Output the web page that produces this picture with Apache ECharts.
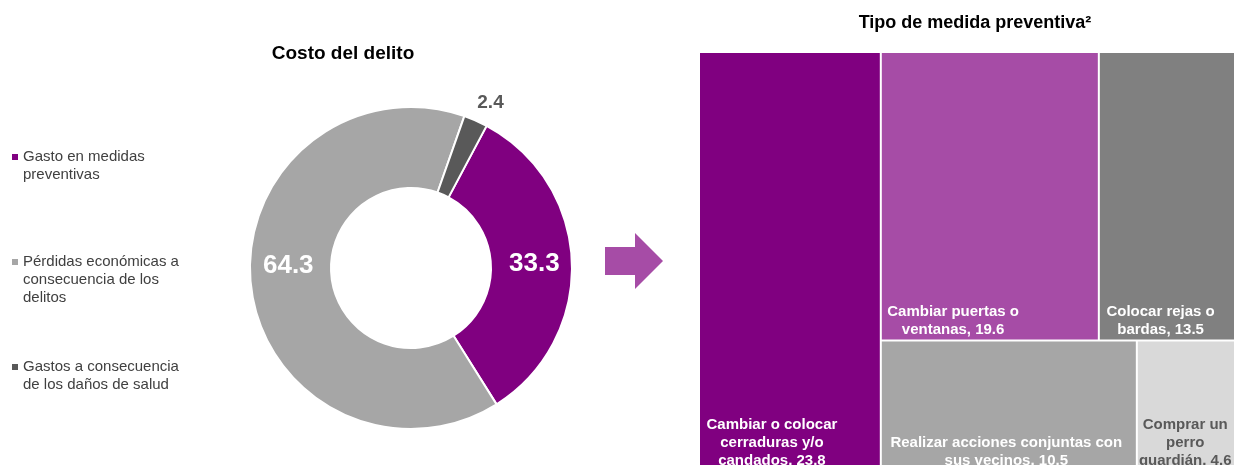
<!DOCTYPE html>
<html>
<head>
<meta charset="utf-8">
<script src="https://cdn.jsdelivr.net/npm/echarts@6/dist/echarts.min.js"></script>
<style>
  html, body { margin: 0; padding: 0; background: #fff; }
  #main { width: 1234px; height: 465px; }
</style>
</head>
<body>
<div id="main"></div>
<script>
// Costo del delito (%)
var costoNombres = [
  "Gasto en medidas\npreventivas",
  "Pérdidas económicas a\nconsecuencia de los\ndelitos",
  "Gastos a consecuencia\nde los daños de salud",
];
var costoValores = [33.3, 64.3, 2.4];
var costoColores = ["#800080", "#A6A6A6", "#595959"];

// Tipo de medida preventiva (%)
var medidaNombres = [
  "Cambiar o colocar\ncerraduras y/o\ncandados",
  "Cambiar puertas o\nventanas",
  "Colocar rejas o\nbardas",
  "Realizar acciones conjuntas con\nsus vecinos",
  "Comprar un\nperro\nguardián",
];
var medidaValores = [23.8, 19.6, 13.5, 10.5, 4.6];
var medidaColores = ["#800080", "#A64CA6", "#808080", "#A6A6A6", "#D9D9D9"];
var medidaTextoColor = ["#fff", "#fff", "#fff", "#fff", "#595959"];
// donde cae el centro del texto dentro de cada rectangulo
var medidaTextoX = ["40%", "33%", "41%", "49%", "43%"];

var chart = echarts.init(document.getElementById("main"));

// etiquetas especiales del anillo
var costoEtiqueta = [
  {},
  { offset: [0, -16] },
  { position: "outside", color: "#595959", fontSize: 19, distanceToLabelLine: -6 },
];
var costoLinea = [{}, {}, { show: false, length: 19, length2: 0 }];

var costoData = costoNombres.map(function (n, i) {
  return {
    name: n,
    value: costoValores[i],
    itemStyle: { color: costoColores[i] },
    label: costoEtiqueta[i],
    labelLine: costoLinea[i],
  };
});

function hoja(i) {
  return {
    name: medidaNombres[i],
    value: medidaValores[i],
    itemStyle: { color: medidaColores[i] },
    label: { color: medidaTextoColor[i], position: [medidaTextoX[i], "100%"] },
  };
}
// agrupado para que quede: columna izquierda, fila arriba, fila abajo
var medidaArbol = [
  hoja(0),
  {
    name: "resto",
    children: [
      { name: "fila1", children: [hoja(1), hoja(2)] },
      { name: "fila2", children: [hoja(3), hoja(4)] },
    ],
  },
];

var option = {
  animation: false,
  textStyle: { fontFamily: "Liberation Sans, Arial, sans-serif" },
  title: [
    {
      text: "Costo del delito",
      left: 343,
      top: 44,
      textAlign: "center",
      padding: 0,
      textStyle: { fontSize: 19, fontWeight: "bold", color: "#000" },
    },
    {
      text: "Tipo de medida preventiva²",
      left: 975,
      top: 14,
      textAlign: "center",
      padding: 0,
      textStyle: { fontSize: 18, fontWeight: "bold", color: "#000" },
    },
  ],
  legend: {
    orient: "vertical",
    left: 12,
    top: 148,
    padding: 0,
    itemGap: 51,
    itemWidth: 6,
    itemHeight: 42,
    symbolKeepAspect: true,
    icon: "path://M0,0h6v6h-6zM0,42",
    itemStyle: { borderWidth: 0 },
    selectedMode: false,
    textStyle: { fontSize: 15, lineHeight: 18, color: "#404040" },
    formatter: function (name) {
      // todas las entradas ocupan 3 renglones
      var n = name.split("\n").length;
      var s = name;
      for (var k = n; k < 3; k++) s += "\n ";
      return s;
    },
    data: costoNombres,
  },
  graphic: [
    {
      type: "polygon",
      shape: {
        points: [
          [605, 247],
          [635, 247],
          [635, 233],
          [663, 261],
          [635, 289],
          [635, 275],
          [605, 275],
        ],
      },
      style: { fill: "#A64CA6" },
    },
  ],
  series: [
    {
      name: "Costo del delito",
      type: "pie",
      center: [411, 268],
      radius: [80, 161],
      startAngle: 62,
      clockwise: true,
      avoidLabelOverlap: false,
      itemStyle: { borderColor: "#fff", borderWidth: 2 },
      label: {
        show: true,
        position: "inside",
        color: "#fff",
        fontSize: 26,
        fontWeight: "bold",
        formatter: function (p) {
          return p.value;
        },
      },
      labelLine: { show: false },
      emphasis: { disabled: true },
      data: costoData,
    },
    {
      name: "Tipo de medida preventiva",
      type: "treemap",
      left: 700,
      top: 53,
      width: 548,
      height: 418,
      sort: false,
      squareRatio: 1,
      roam: false,
      nodeClick: false,
      breadcrumb: { show: false },
      itemStyle: { borderWidth: 0, gapWidth: 2, borderColor: "#fff" },
      label: {
        show: true,
        fontSize: 15,
        fontWeight: "bold",
        lineHeight: 18,
        align: "center",
        verticalAlign: "bottom",
        padding: [0, 0, 1, 0],
        formatter: function (p) {
          return p.name + ", " + p.value;
        },
      },
      emphasis: { disabled: true },
      data: medidaArbol,
    },
  ],
};

chart.setOption(option);
</script>
</body>
</html>
